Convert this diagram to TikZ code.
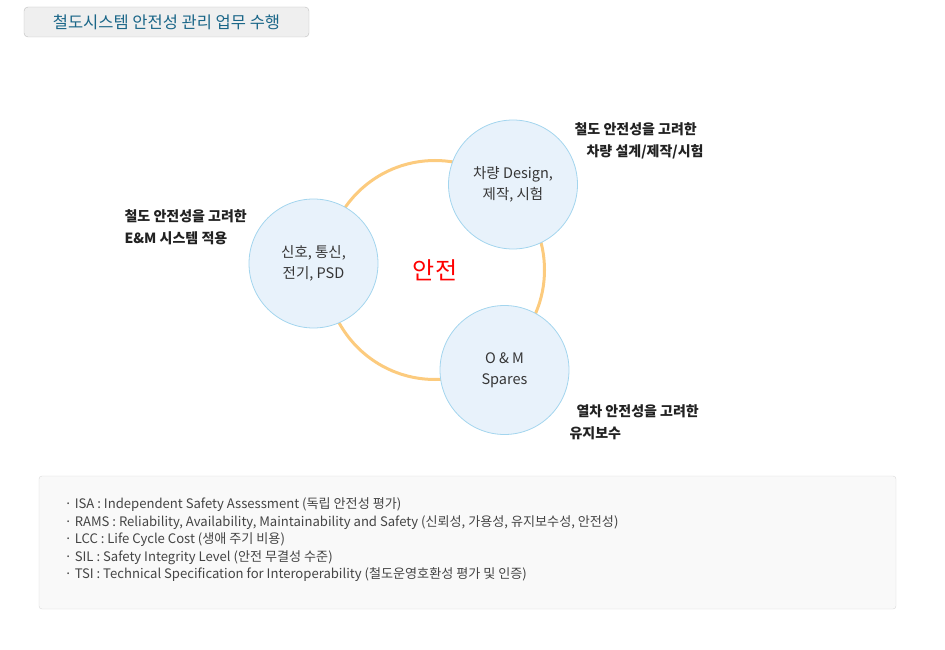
\documentclass[tikz,border=0pt]{standalone}
\usepackage{fontspec}
\setmainfont{Noto Sans CJK KR}
\usetikzlibrary{positioning}

\definecolor{titleblue}{HTML}{1A6688}
\definecolor{titleline}{HTML}{BDBDBD}
\definecolor{titlefill}{HTML}{EFEFEF}
\definecolor{ringline}{HTML}{FCCB7E}
\definecolor{areafill}{HTML}{E8F2FB}
\definecolor{arealine}{HTML}{A3D5EE}
\definecolor{areatext}{HTML}{363636}
\definecolor{notetext}{HTML}{222222}
\definecolor{boxline}{HTML}{D9D9D9}
\definecolor{boxfill}{HTML}{F9F9F9}
\definecolor{boxtext}{HTML}{444444}

\begin{document}
\begin{tikzpicture}[x=1pt,y=-1pt,
    area/.style={circle, draw=arealine, fill=areafill, line width=0.8pt,
        minimum size=129pt, inner sep=0pt, align=center, text=areatext,
        font=\fontsize{14.5}{21}\selectfont},
    note/.style={anchor=west, align=left, text=notetext,
        font=\fontsize{14}{22}\selectfont\bfseries}]
    \useasboundingbox (0,0) rectangle (945,650);
    \node[draw=titleline, fill=titlefill, rounded corners=4pt, minimum width=285pt,
        minimum height=30pt, text=titleblue, font=\fontsize{16.5}{18}\selectfont]
        (title) at (166.5,22) {철도시스템 안전성 관리 업무 수행};
    \node[circle, draw=ringline, line width=3pt, minimum size=219pt, text=red,
        font=\fontsize{24}{26}\selectfont] (safe) at (435,270) {안전};
    \node[area] (sig) at (313.5,263.5) {신호, 통신,\\전기, PSD};
    \node[area] (car) at (513,184.5) {차량 Design,\\제작, 시험};
    \node[area] (om) at (504.5,370) {O \& M\\Spares};
    \node[note] (signote) at (121,227) {철도 안전성을 고려한\\E\&M 시스템 적용};
    \node[note] (carnote) at (571,141) {철도 안전성을 고려한\\\hspace*{12pt}차량 설계/제작/시험};
    \node[note] (omnote) at (566,422) {\hspace*{7pt}열차 안전성을 고려한\\유지보수};
    \node[draw=boxline, fill=boxfill, rounded corners=3pt, minimum width=857pt,
        minimum height=133pt] (box) at (467.5,542.5) {};
    \node[anchor=west, align=left, text=boxtext, font=\fontsize{13.1}{17.5}\selectfont]
        (abbr) at (61,540) {· ISA : Independent Safety Assessment (독립 안전성 평가)\\
        · RAMS : Reliability, Availability, Maintainability and Safety (신뢰성, 가용성, 유지보수성, 안전성)\\
        · LCC : Life Cycle Cost (생애 주기 비용)\\
        · SIL : Safety Integrity Level (안전 무결성 수준)\\
        · TSI : Technical Specification for Interoperability (철도운영호환성 평가 및 인증)};
\end{tikzpicture}
\end{document}
